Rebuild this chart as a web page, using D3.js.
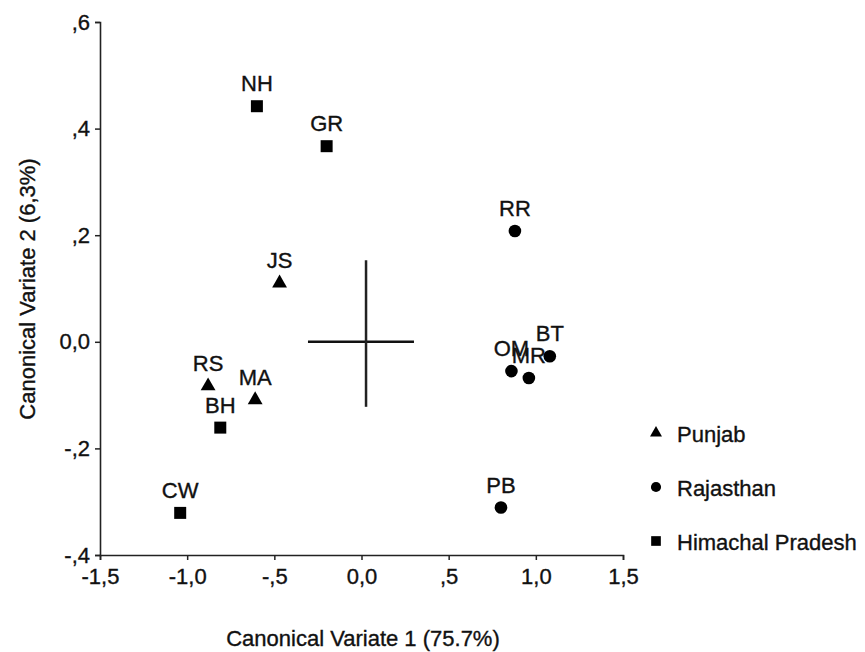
<!DOCTYPE html>
<html>
<head>
<meta charset="utf-8">
<script src="https://cdn.jsdelivr.net/npm/d3@7"></script>
<style>
  body { margin: 0; background: #fff; }
  text { font-family: "Liberation Sans", Arial, sans-serif; fill: #111; stroke: #111; stroke-width: 0.35px; }
</style>
</head>
<body>
<svg id="chart" width="865" height="652"></svg>
<script>
// populations, their state and the two canonical scores
const codes = ['NH', 'GR', 'RR', 'JS', 'BT', 'OM', 'MR', 'RS', 'MA', 'BH', 'CW', 'PB'];
const states = ['Himachal Pradesh', 'Himachal Pradesh', 'Rajasthan', 'Punjab', 'Rajasthan', 'Rajasthan',
  'Rajasthan', 'Punjab', 'Punjab', 'Himachal Pradesh', 'Himachal Pradesh', 'Rajasthan'];
const cv1 = [-0.60, -0.20, 0.88, -0.47, 1.08, 0.86, 0.96, -0.88, -0.61, -0.81, -1.04, 0.80];
const cv2 = [0.442, 0.367, 0.208, 0.110, -0.027, -0.055, -0.068, -0.083, -0.109, -0.161, -0.321, -0.311];

// legend order
const groups = ['Punjab', 'Rajasthan', 'Himachal Pradesh'];

// tick values and their labels (comma decimals, as printed)
const xTicks = [-1.5, -1.0, -0.5, 0, 0.5, 1.0, 1.5];
const xTickLabels = ['-1,5', '-1,0', '-,5', '0,0', ',5', '1,0', '1,5'];
const yTicks = [-0.4, -0.2, 0, 0.2, 0.4, 0.6];
const yTickLabels = ['-,4', '-,2', '0,0', ',2', ',4', ',6'];

// centre cross: horizontal and vertical extents
const crossX = [-0.307, 0.301];
const crossY = [-0.122, 0.153];
const crossCentre = [0.026, 0.0];

const svg = d3.select('#chart');

const x = d3.scaleLinear().domain([-1.5, 1.5]).range([100, 623]);
const y = d3.scaleLinear().domain([-0.4, 0.6]).range([555, 22]);
const shape = d3.scaleOrdinal()
  .domain(groups)
  .range([d3.symbolTriangle, d3.symbolCircle, d3.symbolSquare]);
const markSize = { 'Punjab': 95, 'Rajasthan': 125, 'Himachal Pradesh': 144 };

const data = codes.map((code, i) => {
  return { code, state: states[i], cv1: cv1[i], cv2: cv2[i] };
});

// axes
const xAxis = svg.append('g')
  .attr('transform', 'translate(0,' + y(-0.4) + ')')
  .call(d3.axisBottom(x).tickValues(xTicks).tickSize(5).tickPadding(8)
    .tickFormat((d, i) => xTickLabels[i]));

const yAxis = svg.append('g')
  .attr('transform', 'translate(' + x(-1.5) + ',0)')
  .call(d3.axisLeft(y).tickValues(yTicks).tickSize(5).tickPadding(5)
    .tickFormat((d, i) => yTickLabels[i]));

[xAxis, yAxis].forEach(ax => {
  ax.select('.domain').attr('stroke', '#222').attr('stroke-width', 1.6);
  ax.selectAll('.tick line').attr('stroke', '#222').attr('stroke-width', 1.5);
  ax.selectAll('.tick text')
    .style('font-size', '22px')
    .style('font-family', '"Liberation Sans", Arial, sans-serif')
    .attr('fill', '#111');
});

// axis titles
svg.append('text')
  .attr('x', 363)
  .attr('y', 646)
  .attr('text-anchor', 'middle')
  .style('font-size', '22px')
  .text('Canonical Variate 1 (75.7%)');

svg.append('text')
  .attr('transform', 'translate(35,289) rotate(-90)')
  .attr('text-anchor', 'middle')
  .style('font-size', '22px')
  .text('Canonical Variate 2 (6,3%)');

// centre cross
svg.append('line')
  .attr('x1', x(crossX[0])).attr('x2', x(crossX[1]))
  .attr('y1', y(crossCentre[1])).attr('y2', y(crossCentre[1]))
  .attr('stroke', '#111').attr('stroke-width', 2.5);

svg.append('line')
  .attr('x1', x(crossCentre[0])).attr('x2', x(crossCentre[0]))
  .attr('y1', y(crossY[0])).attr('y2', y(crossY[1]))
  .attr('stroke', '#222').attr('stroke-width', 2.5);

// points
const pts = svg.selectAll('.pop')
  .data(data)
  .enter()
  .append('g')
  .attr('class', 'pop')
  .attr('transform', d => `translate(${x(d.cv1)},${y(d.cv2)})`);

pts.append('path')
  .attr('d', d => d3.symbol().type(shape(d.state)).size(markSize[d.state])())
  .attr('fill', '#000');

pts.append('text')
  .attr('y', -15)
  .attr('text-anchor', 'middle')
  .style('font-size', '22px')
  .text(d => d.code);

// legend
const legend = svg.selectAll('.legend')
  .data(groups)
  .enter()
  .append('g')
  .attr('class', 'legend')
  .attr('transform', (d, i) => `translate(656,${433 + i * 54})`);

legend.append('path')
  .attr('d', d => d3.symbol().type(shape(d)).size(markSize[d] * 0.65)())
  .attr('fill', '#000');

legend.append('text')
  .attr('x', 21)
  .attr('y', 9)
  .style('font-size', '22px')
  .text(d => d);
</script>
</body>
</html>
